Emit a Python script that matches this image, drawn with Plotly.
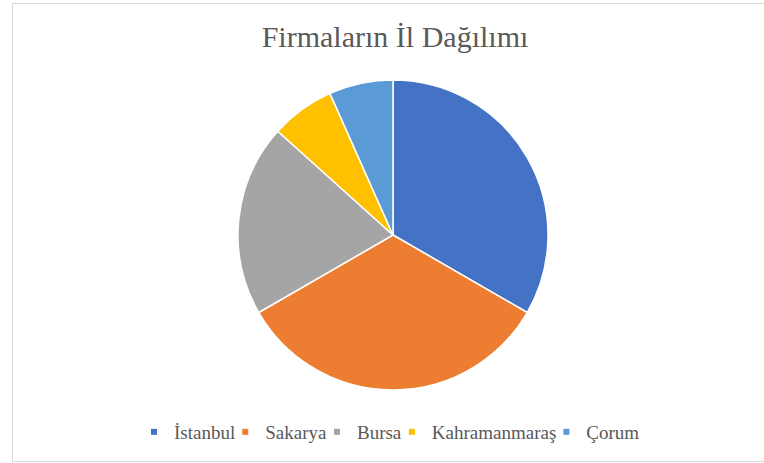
import plotly.graph_objects as go

cities = ["İstanbul", "Sakarya", "Bursa", "Kahramanmaraş", "Çorum"]
counts = [5, 5, 3, 1, 1]
colors = ["#4472C4", "#ED7D31", "#A5A5A5", "#FFC000", "#5B9BD5"]

W, H = 764, 463
SERIF = "Liberation Serif, Times New Roman, serif"

fig = go.Figure()
fig.add_trace(go.Pie(
    labels=cities,
    values=counts,
    sort=False,
    direction="clockwise",
    rotation=0,
    textinfo="none",
    hoverinfo="label+value+percent",
    showlegend=False,
    marker=dict(colors=colors, line=dict(color="white", width=1.5)),
    domain=dict(x=[238 / W, 548 / W], y=[1 - 390 / H, 1 - 80 / H]),
))

# legend entries (small square keys as in the original)
for name, col in zip(cities, colors):
    fig.add_trace(go.Scatter(
        x=[None], y=[None], mode="markers", name=name,
        marker=dict(symbol="square", size=6, color=col),
        hoverinfo="skip",
    ))

fig.update_layout(
    width=W, height=H,
    margin=dict(l=0, r=0, t=0, b=0),
    paper_bgcolor="white",
    plot_bgcolor="white",
    xaxis=dict(visible=False),
    yaxis=dict(visible=False),
    font=dict(family=SERIF, color="#595959"),
    title=dict(text="Firmaların İl Dağılımı", x=395 / W, xanchor="center",
               y=1 - 36 / H, yanchor="middle",
               font=dict(size=30, color="#595959", family=SERIF)),
    legend=dict(orientation="h", x=397 / W, xanchor="center", y=1 - 432 / H,
                yanchor="middle", font=dict(size=19, color="#595959", family=SERIF),
                itemwidth=30, indentation=-15, tracegroupgap=0,
                bgcolor="rgba(0,0,0,0)"),
    shapes=[dict(type="rect", xref="paper", yref="paper",
                 x0=12.5 / W, x1=1.01, y0=1 - 461.5 / H, y1=1 - 3.5 / H,
                 line=dict(color="#D9D9D9", width=1), fillcolor="rgba(0,0,0,0)",
                 layer="below")],
)

fig.write_html(
    "out.html",
    config={"displayModeBar": False},
    post_script="document.body.style.margin='0';document.body.style.overflow='hidden';",
)
